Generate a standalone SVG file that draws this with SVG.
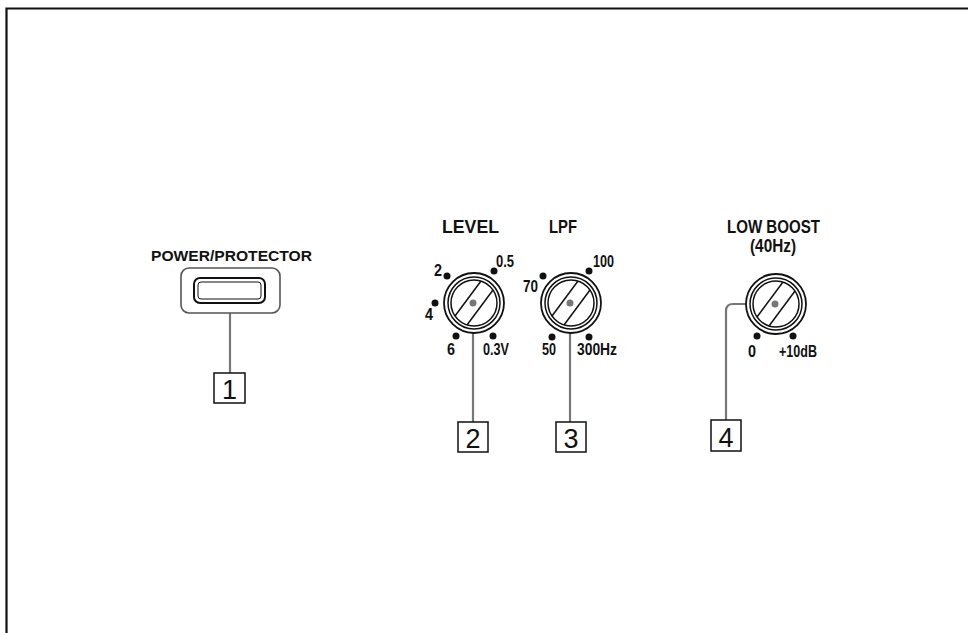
<svg xmlns="http://www.w3.org/2000/svg" width="968" height="633" viewBox="0 0 968 633">
<style>
.t{font-family:"Liberation Sans",Arial,sans-serif;font-weight:bold;fill:#111}
.h{font-size:17.5px}
.s{font-size:16.5px}
.n{font-family:"Liberation Sans",Arial,sans-serif;font-size:27px;fill:#111;text-anchor:middle}
.box{fill:#fff;stroke:#111;stroke-width:1.5}
.lead{fill:none;stroke:#777;stroke-width:2.2}
.ring{fill:none;stroke:#111;stroke-width:1.5}
.dot{fill:#111}
</style>
<defs>
<g id="knob">
<circle r="30" fill="#fff" stroke="#111" stroke-width="1.8"/>
<circle r="26" class="ring"/>
<circle r="23" class="ring"/>
<line x1="-19" y1="13" x2="7" y2="-22" stroke="#111" stroke-width="1.5"/>
<line x1="-7" y1="22" x2="19" y2="-13" stroke="#111" stroke-width="1.5"/>
</g>
</defs>
<rect width="968" height="633" fill="#fff"/>
<path d="M6.5 633 V8.5 H968" fill="none" stroke="#111" stroke-width="2.2"/>
<g id="connectors">
<line class="lead" x1="230" y1="313" x2="230" y2="373"/>
<line class="lead" x1="473" y1="303" x2="473" y2="422"/>
<line class="lead" x1="570" y1="303" x2="570" y2="422"/>
<path class="lead" d="M775 304 H733 Q726 304 726 311 V420"/>
</g>
<g id="power">
<text class="t" x="151" y="261" font-size="14" textLength="161" lengthAdjust="spacingAndGlyphs">POWER/PROTECTOR</text>
<rect x="181" y="268" width="99" height="45" rx="8" fill="#fff" stroke="#555" stroke-width="1.6"/>
<rect x="194" y="278" width="71" height="25" rx="6" fill="#fff" stroke="#111" stroke-width="2"/>
<rect x="198" y="282" width="63" height="17" rx="3" fill="none" stroke="#111" stroke-width="1"/>
</g>
<g id="level">
<text class="t h" x="442" y="233" textLength="57" lengthAdjust="spacingAndGlyphs">LEVEL</text>
<use href="#knob" x="474" y="303"/>
<circle class="dot" cx="447" cy="276" r="3.5"/>
<circle class="dot" cx="494" cy="271" r="3.5"/>
<circle class="dot" cx="435" cy="303" r="3.5"/>
<circle class="dot" cx="456" cy="336" r="3.5"/>
<circle class="dot" cx="493" cy="336" r="3.5"/>
<text class="t s" x="434" y="276" textLength="8" lengthAdjust="spacingAndGlyphs">2</text>
<text class="t s" x="496" y="267" textLength="18" lengthAdjust="spacingAndGlyphs">0.5</text>
<text class="t s" x="425" y="320" textLength="8" lengthAdjust="spacingAndGlyphs">4</text>
<text class="t s" x="447" y="355" textLength="8" lengthAdjust="spacingAndGlyphs">6</text>
<text class="t s" x="483" y="355" textLength="26" lengthAdjust="spacingAndGlyphs">0.3V</text>
<circle cx="473" cy="303" r="3.5" fill="#777"/>
</g>
<g id="lpf">
<text class="t h" x="549" y="233" textLength="28" lengthAdjust="spacingAndGlyphs">LPF</text>
<use href="#knob" x="571" y="303"/>
<circle class="dot" cx="543" cy="276" r="3.5"/>
<circle class="dot" cx="589" cy="271" r="3.5"/>
<circle class="dot" cx="552" cy="337" r="3.5"/>
<circle class="dot" cx="589" cy="337" r="3.5"/>
<text class="t s" x="523" y="292" textLength="15" lengthAdjust="spacingAndGlyphs">70</text>
<text class="t s" x="593" y="267" textLength="21" lengthAdjust="spacingAndGlyphs">100</text>
<text class="t s" x="542" y="355" textLength="14" lengthAdjust="spacingAndGlyphs">50</text>
<text class="t s" x="577" y="355" textLength="40" lengthAdjust="spacingAndGlyphs">300Hz</text>
<circle cx="570" cy="303" r="3.5" fill="#777"/>
</g>
<g id="lowboost">
<text class="t" x="727" y="232.5" font-size="17.5" textLength="93" lengthAdjust="spacingAndGlyphs">LOW BOOST</text>
<text class="t" x="750" y="252" font-size="17.5" textLength="46" lengthAdjust="spacingAndGlyphs">(40Hz)</text>
<use href="#knob" x="776" y="304"/>
<circle class="dot" cx="757" cy="336" r="3.5"/>
<circle class="dot" cx="793" cy="336" r="3.5"/>
<text class="t s" x="748" y="357" textLength="8" lengthAdjust="spacingAndGlyphs">0</text>
<text class="t s" x="779" y="357" textLength="38" lengthAdjust="spacingAndGlyphs">+10dB</text>
<circle cx="775" cy="304" r="3.5" fill="#777"/>
</g>
<g id="label1"><rect class="box" x="214" y="373" width="31" height="30"/><text class="n" x="229.5" y="399">1</text></g>
<g id="label2"><rect class="box" x="458" y="422" width="30" height="30"/><text class="n" x="473" y="448">2</text></g>
<g id="label3"><rect class="box" x="556" y="422" width="30" height="30"/><text class="n" x="571" y="448">3</text></g>
<g id="label4"><rect class="box" x="711" y="420" width="30" height="31"/><text class="n" x="726" y="447">4</text></g>
</svg>
